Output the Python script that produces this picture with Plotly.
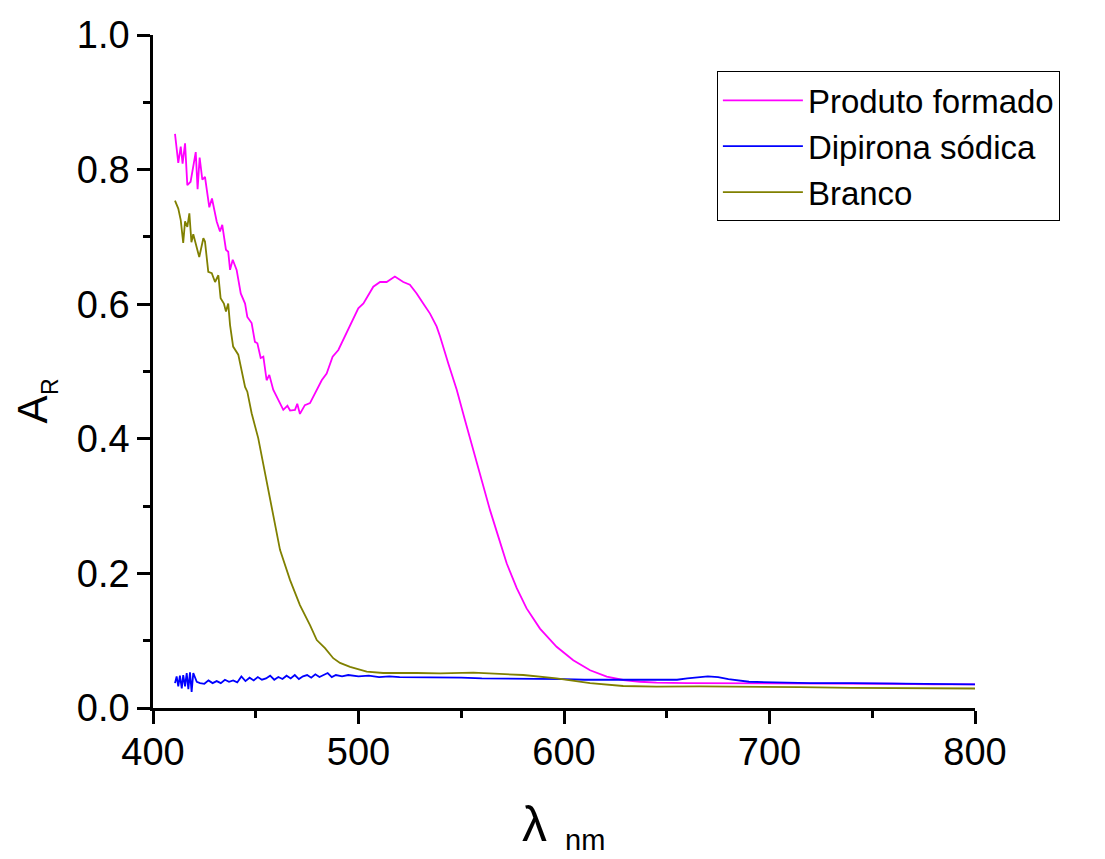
import plotly.graph_objects as go

# ---- data ----
wl_produto = [410.7, 412.3, 413.5, 414.4, 415.6, 416.7, 418.3, 420.8, 421.7, 422.7, 424.0, 425.3,
              427.4, 428.7, 431.0, 432.6, 433.7, 435.5, 436.6, 437.5, 438.8, 440.7, 442.7, 444.8,
              445.9, 448.0, 449.6, 450.8, 452.4, 453.7, 455.3, 456.6, 458.5, 461.0, 463.4, 465.4,
              466.7, 469.1, 470.2, 471.5, 473.9, 476.4, 478.8, 480.4, 482.1, 484.5, 487.4, 490.2,
              492.6, 495.0, 497.5, 499.9, 502.4, 504.8, 507.2, 510.5, 513.7, 517.7, 521.8, 525.0,
              528.3, 531.5, 534.8, 538.0, 539.7, 543.7, 547.8, 551.8, 555.9, 559.9, 564.0, 568.0,
              572.1, 577.0, 581.8, 588.3, 596.4, 604.5, 612.7, 620.8, 628.8, 636.9, 645.0, 660,
              680, 700, 720, 740, 760, 780, 800]
a_produto = [0.853, 0.810, 0.834, 0.809, 0.839, 0.777, 0.782, 0.826, 0.771, 0.818, 0.785, 0.789,
             0.744, 0.757, 0.723, 0.708, 0.718, 0.681, 0.678, 0.651, 0.666, 0.651, 0.616, 0.601,
             0.581, 0.572, 0.544, 0.542, 0.520, 0.522, 0.487, 0.495, 0.473, 0.458, 0.443, 0.449,
             0.442, 0.443, 0.452, 0.437, 0.450, 0.453, 0.468, 0.477, 0.487, 0.497, 0.522, 0.532,
             0.547, 0.562, 0.577, 0.594, 0.601, 0.614, 0.626, 0.633, 0.633, 0.641, 0.633, 0.629,
             0.616, 0.601, 0.586, 0.567, 0.552, 0.512, 0.473, 0.428, 0.383, 0.339, 0.294, 0.255,
             0.215, 0.178, 0.148, 0.118, 0.091, 0.071, 0.056, 0.0465, 0.0416, 0.039, 0.0376, 0.037,
             0.037, 0.037, 0.036, 0.036, 0.036, 0.035, 0.035]

wl_dipirona = [410.7, 411.5, 412.3, 413.1, 414.0, 414.7, 415.6, 416.4, 417.2, 418.0, 418.8, 419.6,
               421.3, 422.9, 425, 427, 429, 431, 433, 435, 437, 439, 441, 443, 445, 447, 449, 451,
               453, 455, 457, 459, 461, 463, 465, 467, 469, 471, 473, 475, 477, 479, 481, 483, 485,
               487, 489, 492, 495, 500, 505, 510, 515, 520, 530, 540, 550, 560, 570, 580, 590, 600,
               610, 620, 630, 640, 650, 655, 660, 665, 670, 675, 680, 690, 700, 720, 740, 760, 780,
               800]
a_dipirona = [0.037, 0.047, 0.032, 0.048, 0.029, 0.049, 0.032, 0.052, 0.028, 0.053, 0.024, 0.052,
              0.039, 0.037, 0.036, 0.041, 0.037, 0.040, 0.037, 0.042, 0.039, 0.041, 0.038, 0.047,
              0.040, 0.045, 0.041, 0.046, 0.042, 0.044, 0.048, 0.042, 0.046, 0.043, 0.048, 0.044,
              0.049, 0.043, 0.047, 0.049, 0.045, 0.050, 0.046, 0.049, 0.052, 0.046, 0.049, 0.047,
              0.049, 0.047, 0.048, 0.046, 0.047, 0.046, 0.046, 0.045, 0.045, 0.044, 0.044, 0.043,
              0.043, 0.043, 0.042, 0.042, 0.042, 0.041, 0.041, 0.042, 0.044, 0.046, 0.047, 0.046,
              0.043, 0.039, 0.038, 0.037, 0.037, 0.036, 0.036, 0.035]

wl_branco = [410.7, 412.3, 413.5, 414.7, 415.6, 416.7, 417.7, 418.7, 419.6, 421.3, 422.5, 424.5,
             425.3, 426.9, 428.6, 430.2, 431.8, 432.9, 434.5, 435.5, 436.6, 437.5, 439.0, 441.5,
             443.2, 444.8, 445.9, 448.0, 451.2, 456.9, 461.8, 466.7, 471.5, 476.4, 479.7, 483.7,
             487.7, 491.0, 495.9, 504.0, 512.0, 528.3, 539.7, 555.9, 580.2, 596.4, 612.7, 628.8,
             645.0, 666.0, 690.0, 714.8, 740.0, 770.0, 800.0]
a_branco = [0.754, 0.742, 0.725, 0.691, 0.723, 0.715, 0.735, 0.692, 0.704, 0.685, 0.670, 0.698,
            0.693, 0.648, 0.646, 0.633, 0.643, 0.609, 0.601, 0.589, 0.601, 0.569, 0.537, 0.525,
            0.502, 0.477, 0.470, 0.438, 0.401, 0.309, 0.235, 0.190, 0.153, 0.123, 0.101, 0.089,
            0.074, 0.067, 0.061, 0.054, 0.052, 0.052, 0.0515, 0.0525, 0.049, 0.044, 0.037, 0.0327,
            0.0317, 0.032, 0.032, 0.031, 0.030, 0.030, 0.029]

series_names = ["Produto formado", "Dipirona sódica", "Branco"]
series_colors = ["#FF00FF", "#0000FF", "#808000"]

FONT = "Liberation Sans, Arial, sans-serif"

fig = go.Figure()
for name, color, xs, ys in zip(series_names, series_colors,
                               [wl_produto, wl_dipirona, wl_branco],
                               [a_produto, a_dipirona, a_branco]):
    fig.add_trace(go.Scatter(x=xs, y=ys, mode="lines", name=name,
                             line=dict(color=color, width=1.8)))

axis_common = dict(showgrid=False, zeroline=False, showline=True, linecolor="black",
                   linewidth=2.5, ticks="outside", ticklen=13, tickwidth=2.5,
                   tickcolor="black", automargin=False,
                   tickfont=dict(family=FONT, size=38, color="black"))

fig.update_xaxes(range=[400, 800], dtick=100, tick0=400, ticklabelstandoff=-4,
                 minor=dict(dtick=50, ticks="outside", ticklen=7, tickwidth=2.5,
                            tickcolor="black"),
                 **axis_common)
fig.update_yaxes(range=[0, 1], dtick=0.2, tick0=0, tickformat=".1f",
                 minor=dict(dtick=0.1, ticks="outside", ticklen=7, tickwidth=2.5,
                            tickcolor="black"),
                 **axis_common)

annos = [
    dict(text="λ", x=0.4647, y=-0.172, font=dict(size=50)),
    dict(text="nm", x=0.525, y=-0.196, font=dict(size=29)),
    dict(text="A", x=-0.1463, y=0.443, font=dict(size=42), textangle=-90),
    dict(text="R", x=-0.1245, y=0.478, font=dict(size=23), textangle=-90),
]
for a in annos:
    a["font"].update(family=FONT, color="black")
    fig.add_annotation(xref="paper", yref="paper", showarrow=False,
                       xanchor="center", yanchor="middle", **a)

# the page body adds an 8 px offset, so the figure is 8 px smaller and margins compensate
fig.update_layout(
    width=1097, height=851,
    margin=dict(l=145, r=130, t=27, b=151, autoexpand=False),
    paper_bgcolor="white", plot_bgcolor="white",
    font=dict(family=FONT, color="black"),
    legend=dict(x=0.686, y=0.946, xanchor="left", yanchor="top",
                bordercolor="black", borderwidth=1, bgcolor="white",
                font=dict(family=FONT, size=33, color="black"),
                itemwidth=80, tracegroupgap=0),
    showlegend=True,
)

fig.write_html("out.html")
